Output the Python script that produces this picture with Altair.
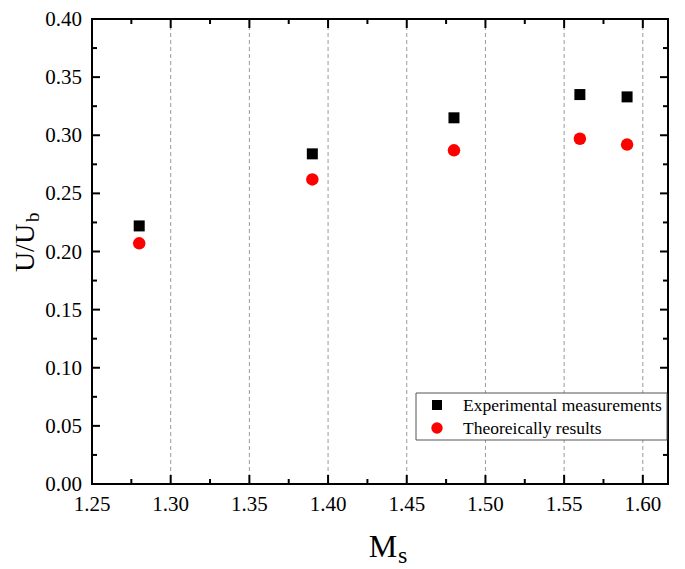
import altair as alt
import pandas as pd

# ---- data ----
ms = [1.28, 1.39, 1.48, 1.56, 1.59]
exp_vals = [0.222, 0.284, 0.315, 0.335, 0.333]
theo_vals = [0.207, 0.262, 0.287, 0.297, 0.292]
series_names = ["Experimental measurements", "Theoreically results"]
series_colors = ["black", "#ff0000"]
series_shapes = ["square", "circle"]

x_major = [1.25, 1.30, 1.35, 1.40, 1.45, 1.50, 1.55, 1.60]
x_grid = [1.30, 1.35, 1.40, 1.45, 1.50, 1.55, 1.60]
x_minor = [1.275, 1.325, 1.375, 1.425, 1.475, 1.525, 1.575]
y_major = [0.00, 0.05, 0.10, 0.15, 0.20, 0.25, 0.30, 0.35, 0.40]
y_minor = [0.025, 0.075, 0.125, 0.175, 0.225, 0.275, 0.325, 0.375]

x_title = ["M", "s"]
y_title = ["U/U", "b"]

# ---- layout ----
W, H = 576, 465
TOP = 11
OY = 8 + TOP          # page y of plot top
OX = 92               # page x of plot left
FONT = "Liberation Serif"

df = pd.DataFrame({
    "M": ms + ms,
    "U": exp_vals + theo_vals,
    "Series": [series_names[0]] * len(ms) + [series_names[1]] * len(ms),
})

xscale = alt.Scale(domain=[1.25, 1.616], nice=False, zero=False)
yscale = alt.Scale(domain=[0.0, 0.40], nice=False, zero=False)

X = alt.X("M:Q", scale=xscale, axis=None)
Y = alt.Y("U:Q", scale=yscale, axis=None)

points = alt.Chart(df).mark_point(filled=True, opacity=1).encode(
    x=X,
    y=Y,
    color=alt.Color("Series:N", scale=alt.Scale(domain=series_names, range=series_colors), legend=None),
    shape=alt.Shape("Series:N", scale=alt.Scale(domain=series_names, range=series_shapes), legend=None),
    size=alt.Size("Series:N", scale=alt.Scale(domain=series_names, range=[121, 156]), legend=None),
)

xmaj = pd.DataFrame({"M": x_major})
xgrd = pd.DataFrame({"M": x_grid})
xmin = pd.DataFrame({"M": x_minor})
ymaj = pd.DataFrame({"U": y_major})
ymin = pd.DataFrame({"U": y_minor})

grid = alt.Chart(xgrd).mark_rule(color="#9a9a9a", strokeWidth=1, strokeDash=[4, 3]).encode(
    x=X, y=alt.value(0), y2=alt.value(H))

def rule(d):
    return alt.Chart(d).mark_rule(color="black", strokeWidth=2)

ticks = [
    rule(xmaj).encode(x=X, y=alt.value(H), y2=alt.value(H - 9)),
    rule(xmaj).encode(x=X, y=alt.value(0), y2=alt.value(9)),
    rule(xmin).encode(x=X, y=alt.value(H), y2=alt.value(H - 5)),
    rule(xmin).encode(x=X, y=alt.value(0), y2=alt.value(5)),
    rule(ymaj).encode(y=Y, x=alt.value(0), x2=alt.value(8)),
    rule(ymaj).encode(y=Y, x=alt.value(W), x2=alt.value(W - 8)),
    rule(ymin).encode(y=Y, x=alt.value(0), x2=alt.value(5)),
    rule(ymin).encode(y=Y, x=alt.value(W), x2=alt.value(W - 5)),
]

xlabels = alt.Chart(xmaj).mark_text(font=FONT, fontSize=21, align="center",
                                    baseline="alphabetic", color="black").encode(
    x=X, y=alt.value(511 - OY), text=alt.Text("M:Q", format=".2f"))
ylabels = alt.Chart(ymaj).mark_text(font=FONT, fontSize=21, align="right",
                                    baseline="alphabetic", dy=7, color="black").encode(
    y=Y, x=alt.value(-10), text=alt.Text("U:Q", format=".2f"))

def label(txt, size, x, y, align, angle=0, baseline="alphabetic"):
    d = pd.DataFrame({"t": [txt]})
    kw = dict(font=FONT, fontSize=size, align=align, baseline=baseline, color="black")
    if angle:
        kw["angle"] = angle
    return alt.Chart(d).mark_text(**kw).encode(text="t:N", x=alt.value(x), y=alt.value(y))

titles = [
    label(x_title[0], 32, 383 - OX, 557 - OY, "center"),
    label(x_title[1], 24, 398 - OX, 563 - OY, "left"),
    label(y_title[0], 28, -58, 248 - OY, "center", 270),
    label(y_title[1], 19, -53, 222 - OY, "left", 270),
]

# ---- legend (box, symbols, labels) ----
LX0, LX1, LY0, LY1 = 416 - OX, 667 - OX, 393 - OY, 440 - OY
ROWS = [405 - OY, 428 - OY]
legend_box = alt.Chart(pd.DataFrame({"k": [0]})).mark_rect(
    fill="white", stroke="#555555", strokeWidth=1).encode(
    x=alt.value(LX0), x2=alt.value(LX1), y=alt.value(LY0), y2=alt.value(LY1))

legend_parts = [legend_box]
for i, name in enumerate(series_names):
    d = pd.DataFrame({"Series": [name]})
    legend_parts.append(
        alt.Chart(d).mark_point(filled=True, opacity=1, shape=series_shapes[i],
                                size=[100, 130][i], color=series_colors[i]).encode(
            x=alt.value(437 - OX), y=alt.value(ROWS[i])))
    legend_parts.append(
        alt.Chart(d).mark_text(font=FONT, fontSize=17.5, align="left", baseline="alphabetic",
                               dy=6, color="black").encode(
            x=alt.value(463 - OX), y=alt.value(ROWS[i]), text="Series:N"))

chart = alt.layer(grid, points, *ticks, xlabels, ylabels, *titles, *legend_parts).properties(
    width=W, height=H,
    padding={"left": OX - 8, "top": TOP, "right": 9, "bottom": 100},
    autosize=alt.AutoSizeParams(type="none"),
).configure_view(stroke="black", strokeWidth=2)

chart.save("out.html", embed_options={"renderer": "svg", "actions": False})
